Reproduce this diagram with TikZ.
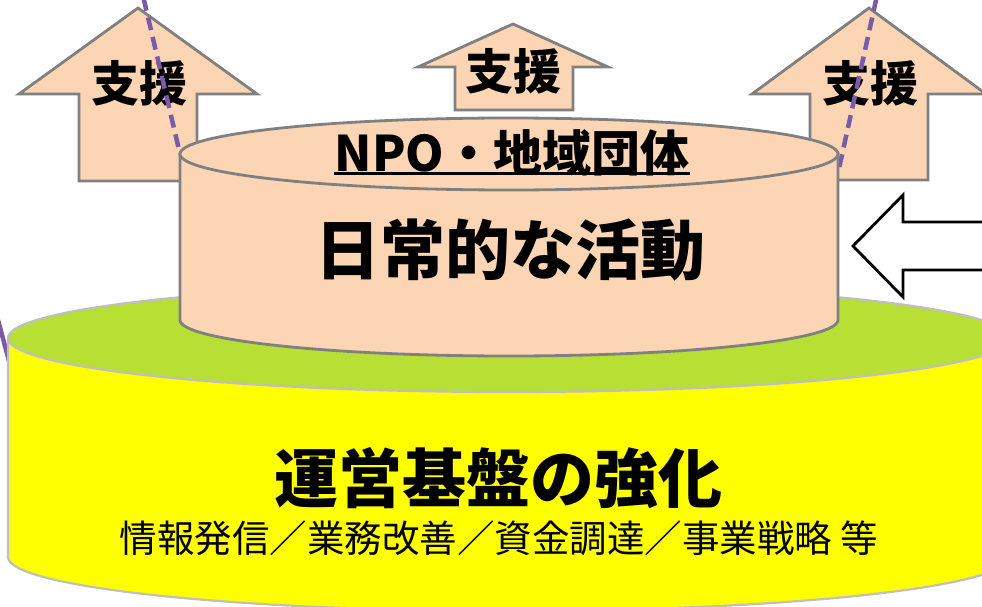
\documentclass[tikz,border=0pt]{standalone}
\usepackage{fontspec}
\newfontfamily\jp{Noto Sans CJK JP}
\definecolor{peach}{HTML}{FCD5B5}
\definecolor{edgegray}{HTML}{808080}
\definecolor{lightedge}{HTML}{BFBFBF}
\definecolor{topgreen}{HTML}{B8E034}
\definecolor{sideyellow}{HTML}{FFFF00}
\definecolor{dashpurple}{HTML}{7A5CA6}
\begin{document}
\begin{tikzpicture}[x=1pt,y=-1pt,
  supportarrow/.style={fill=peach,draw=edgegray,line width=2.8pt,line join=miter},
  hollowarrow/.style={fill=white,draw=black,line width=2.8pt,line join=miter},
  guide/.style={draw=dashpurple,line width=4.5pt,dash pattern=on 13pt off 7pt},
  uppercyl/.style={fill=peach,draw=edgegray,line width=2.8pt},
  lowerside/.style={fill=sideyellow,draw=lightedge,line width=2.2pt},
  lowertop/.style={fill=topgreen,draw=lightedge,line width=2.2pt},
  lbl/.style={inner sep=0pt,font=\jp\bfseries},
  supportlbl/.style={inner sep=0pt,font=\jp\bfseries\fontsize{48}{48}\selectfont}]
\useasboundingbox (0,0) rectangle (982,607);

% support arrows
\draw[supportarrow] (138,8) -- (257,94) -- (197,94) -- (197,181) -- (79,181) -- (79,94) -- (19,94) -- cycle;
\draw[supportarrow] (513,24) -- (608,67) -- (573,67) -- (573,110) -- (455,110) -- (455,67) -- (418,67) -- cycle;
\draw[supportarrow] (869,8) -- (986,94) -- (928,94) -- (928,180) -- (810,180) -- (810,94) -- (752,94) -- cycle;

\node[supportlbl] (s1) at (139,83) {支援};
\node[supportlbl] (s2) at (513,71) {支援};
\node[supportlbl] (s3) at (870,83) {支援};

% guide lines
\coordinate (g1a) at (143.5,-2);
\coordinate (g1b) at (180,154);
\coordinate (g2a) at (876.5,-2);
\coordinate (g2b) at (838,173);
\coordinate (g3a) at (-2,320);
\coordinate (g3b) at (12,372);
\draw[guide] (g1a) -- (g1b);
\draw[guide] (g2a) -- (g2b);
\draw[draw=dashpurple,line width=4.5pt] (g3a) -- (g3b);

% hollow arrow
\draw[hollowarrow] (853,246) -- (903,195) -- (903,222) -- (990,222) -- (990,270) -- (903,270) -- (903,297) -- cycle;

% lower cylinder
\path[lowerside] (8,338) -- (8,557) arc[start angle=180,end angle=0,x radius=501,y radius=54] -- (1010,338) -- cycle;
\path[lowertop] (509,338) ellipse [x radius=501, y radius=54];

% upper cylinder
\path[uppercyl] (180,154) -- (180,320) arc[start angle=180,end angle=0,x radius=329,y radius=36] -- (838,154) -- cycle;
\path[uppercyl] (509,154) ellipse [x radius=329, y radius=36];

% texts
\node[lbl,font=\jp\bfseries\fontsize{49}{49}\selectfont] (npo) at (512,153) {NPO・地域団体};
\draw[line width=3pt] ([yshift=3pt]npo.south west) -- ([yshift=3pt]npo.south east);
\node[lbl,font=\jp\bfseries\fontsize{65}{65}\selectfont] (daily) at (510,250) {日常的な活動};
\node[lbl,font=\jp\bfseries\fontsize{64}{64}\selectfont] (base) at (498,478) {運営基盤の強化};
\node[inner sep=0pt,font=\jp\fontsize{37.5}{37.5}\selectfont] (items) at (499,538) {情報発信／業務改善／資金調達／事業戦略 等};
\end{tikzpicture}
\end{document}
